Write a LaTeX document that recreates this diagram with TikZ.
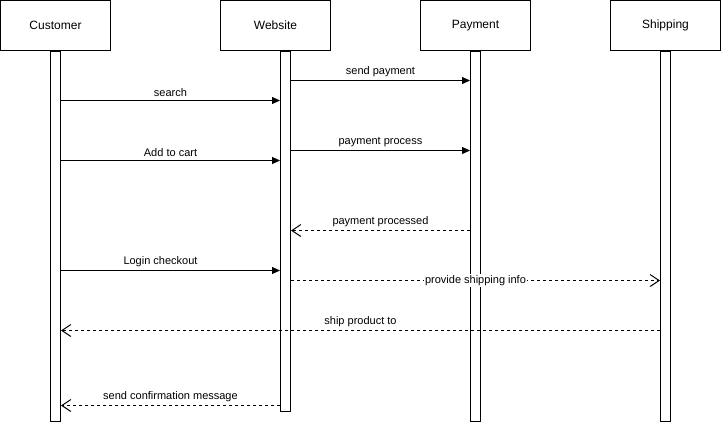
\documentclass[tikz,border=0pt]{standalone}
\usepackage{fontspec}
\setmainfont{Liberation Sans}
\usetikzlibrary{arrows.meta}

\begin{document}
\begin{tikzpicture}[x=1pt, y=-1pt, line width=1pt,
    actor/.style={draw, minimum width=110pt, minimum height=50pt, inner sep=0pt, font=\fontsize{12}{14}\selectfont},
    life/.style={draw, fill=white, minimum width=10pt, inner sep=0pt, anchor=north},
    call/.style={-{Triangle[length=8pt, width=7pt]}},
    reply/.style={dash pattern=on 3pt off 3pt, -{Straight Barb[length=9pt, width=12pt]}},
    lbl/.style={font=\fontsize{11}{13}\selectfont, inner sep=3.5pt}]
  \useasboundingbox (-0.5, -0.5) rectangle (720.5, 420.5);
  % actors
  \node [actor] (cust) at (55, 25) {Customer};
  \node [actor] (web) at (275, 25) {Website};
  \node [actor] (pay) at (475, 25) {Payment};
  \node [actor] (ship) at (665, 25) {Shipping};
  % lifelines
  \node [life, minimum height=370pt] (cbar) at (55, 50) {};
  \node [life, minimum height=360pt] (wbar) at (285, 50) {};
  \node [life, minimum height=370pt] (pbar) at (475, 50) {};
  \node [life, minimum height=370pt] (sbar) at (665, 50) {};
  % message levels
  \coordinate (m1) at (0, 80);
  \coordinate (m2) at (0, 100);
  \coordinate (m3) at (0, 150);
  \coordinate (m4) at (0, 160);
  \coordinate (m5) at (0, 230);
  \coordinate (m6) at (0, 270);
  \coordinate (m7) at (0, 280);
  \coordinate (m8) at (0, 330);
  \coordinate (m9) at (0, 405);
  \draw [call] (wbar.east |- m1) -- node [lbl, above] {send payment} (pbar.west |- m1);
  \draw [call] (cbar.east |- m2) -- node [lbl, above] {search} (wbar.west |- m2);
  \draw [call] (wbar.east |- m3) -- node [lbl, above] {payment process} (pbar.west |- m3);
  \draw [call] (cbar.east |- m4) -- node [lbl, above] {Add to cart} (wbar.west |- m4);
  \draw [reply] (pbar.west |- m5) -- node [lbl, above] {payment processed} (wbar.east |- m5);
  \draw [call] (cbar.east |- m6) -- node [lbl, above, xshift=-10pt] {Login checkout} (wbar.west |- m6);
  \draw [reply] (wbar.east |- m7) -- node [lbl, fill=white, inner sep=1pt] {provide shipping info} (sbar.west |- m7);
  \draw [reply] (sbar.west |- m8) -- node [lbl, above] {ship product to} (cbar.east |- m8);
  \draw [reply] (wbar.west |- m9) -- node [lbl, above] {send confirmation message} (cbar.east |- m9);
\end{tikzpicture}
\end{document}
